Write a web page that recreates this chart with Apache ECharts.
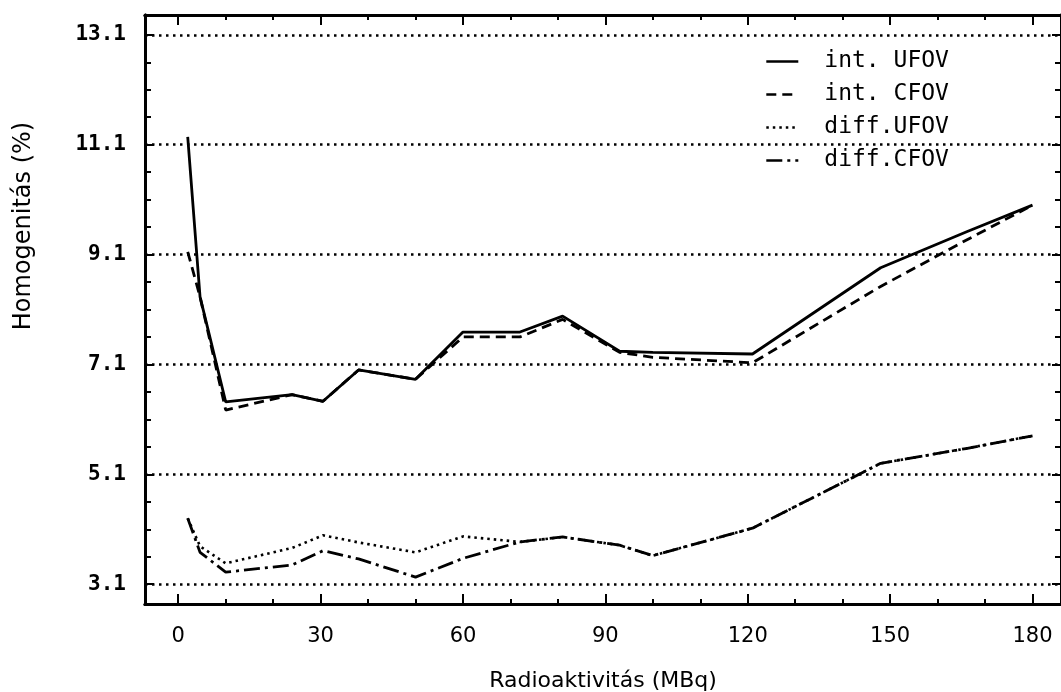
<!DOCTYPE html>
<html><head><meta charset="utf-8">
<script src="https://cdn.jsdelivr.net/npm/echarts@6/dist/echarts.min.js"></script>
<style>html,body{margin:0;padding:0;background:#fff}#c{width:1061px;height:692px}</style>
</head><body><div id="c"></div><script>
// ---- data ----
const xValues  = [2, 4.6, 10, 24, 30.5, 38, 50, 60, 72, 81, 93, 100, 121, 148, 166, 180];
const intUFOV  = [11.24, 8.33, 6.42, 6.55, 6.43, 7.0, 6.83, 7.69, 7.69, 7.98, 7.34, 7.32, 7.29, 8.86, 9.51, 10.0];
const intCFOV  = [9.15, 8.33, 6.27, 6.55, 6.43, 7.0, 6.83, 7.6, 7.6, 7.92, 7.32, 7.23, 7.13, 8.52, 9.36, 10.0];
const diffUFOV = [4.3, 3.79, 3.48, 3.76, 3.99, 3.86, 3.68, 3.97, 3.87, 3.96, 3.81, 3.62, 4.12, 5.3, 5.57, 5.8];
const diffCFOV = [4.3, 3.68, 3.32, 3.45, 3.71, 3.56, 3.23, 3.57, 3.87, 3.96, 3.81, 3.62, 4.12, 5.3, 5.57, 5.8];
const seriesNames = ['int. UFOV', 'int. CFOV', 'diff.UFOV', 'diff.CFOV'];
const xMajorTicks = [0, 30, 60, 90, 120, 150, 180];
const xMinorTicks = [0, 10, 20, 30, 40, 50, 60, 70, 80, 90, 100, 110, 120, 130, 140, 150, 160, 170, 180];
const yMajorTicks = [3.1, 5.1, 7.1, 9.1, 11.1, 13.1];
const yMinorTicks = [3.1, 3.6, 4.1, 4.6, 5.1, 5.6, 6.1, 6.6, 7.1, 7.6, 8.1, 8.6, 9.1, 9.6, 10.1, 10.6, 11.1, 11.6, 12.1, 12.6, 13.1];
const xTitle = 'Radioaktivitás (MBq)';
const yTitle = 'Homogenitás (%)';

const X_MIN = -7, X_MAX = 186, Y_MIN = 2.74, Y_MAX = 13.46;
const BLACK = '#000';
const axisLine = {show: true, onZero: false, lineStyle: {color: BLACK, width: 3}};

function xAxis(pos, ticks, len, labels) {
  return {
    type: 'value', position: pos, min: X_MIN, max: X_MAX,
    axisLine: axisLine,
    axisTick: {show: true, inside: true, length: len, customValues: ticks, lineStyle: {color: BLACK, width: 2}},
    axisLabel: labels ? {show: true, customValues: xMajorTicks, color: BLACK, fontFamily: 'DejaVu Sans', fontSize: 21, margin: 22} : {show: false},
    splitLine: {show: false}
  };
}
function yAxis(pos, ticks, len, labels, split) {
  return {
    type: 'value', position: pos, min: Y_MIN, max: Y_MAX,
    axisLine: axisLine,
    axisTick: {show: true, inside: true, length: len, customValues: ticks, lineStyle: {color: BLACK, width: 2}},
    axisLabel: labels ? {show: true, customValues: yMajorTicks, color: BLACK, fontFamily: 'DejaVu Sans Mono', fontWeight: 'bold', fontSize: 21, margin: 19,
                         formatter: v => v.toFixed(1)} : {show: false},
    splitLine: split ? {show: true, lineStyle: {color: BLACK, width: 2.5, type: [2.5, 4.5]}} : {show: false}
  };
}

const pts = arr => xValues.map((x, i) => [x, arr[i]]);
function line(name, arr, type, width) {
  return {
    name: name, type: 'line', xAxisIndex: 0, yAxisIndex: 0, data: pts(arr),
    showSymbol: false, symbol: 'none', smooth: false,
    lineStyle: {color: BLACK, width: width, type: type},
    itemStyle: {color: BLACK},
    emphasis: {disabled: true}
  };
}

const chart = echarts.init(document.getElementById('c'), null, {renderer: 'canvas'});
chart.setOption({
  animation: false,
  backgroundColor: '#fff',
  grid: {left: 145, top: 15, width: 916, height: 589, containLabel: false, outerBoundsMode: 'none'},
  xAxis: [
    Object.assign(xAxis('bottom', xMajorTicks, 10, true), {name: xTitle, nameLocation: 'middle', nameGap: 66,
      nameTextStyle: {color: BLACK, fontFamily: 'DejaVu Sans', fontSize: 22}}),
    xAxis('bottom', xMinorTicks, 5, false),
    xAxis('top', xMajorTicks, 10, false),
    xAxis('top', xMinorTicks, 5, false)
  ],
  yAxis: [
    yAxis('left', yMajorTicks, 9, true, true),
    yAxis('left', yMinorTicks, 6, false, false),
    yAxis('right', yMajorTicks, 9, false, false),
    yAxis('right', yMinorTicks, 6, false, false)
  ],
  legend: {
    orient: 'vertical', left: 760, top: 45, selectedMode: false,
    data: seriesNames,
    itemWidth: 32, itemHeight: 12, itemGap: 10,
    itemStyle: {opacity: 0},
    lineStyle: {width: 2.6},
    textStyle: {color: BLACK, fontFamily: 'DejaVu Sans Mono', fontSize: 23, lineHeight: 23, padding: [0, 0, 0, 21]}
  },
  graphic: [{
    type: 'text', x: 12, y: 226, rotation: Math.PI / 2,
    style: {text: yTitle, fill: BLACK, font: '24px "DejaVu Sans"', textAlign: 'center', textVerticalAlign: 'top'}
  }],
  series: [
    line(seriesNames[0], intUFOV, 'solid', 2.8),
    line(seriesNames[1], intCFOV, [10, 6], 2.8),
    line(seriesNames[2], diffUFOV, [2.5, 4], 2.6),
    line(seriesNames[3], diffCFOV, [16, 5, 3, 5], 2.8)
  ]
});
</script></body></html>
